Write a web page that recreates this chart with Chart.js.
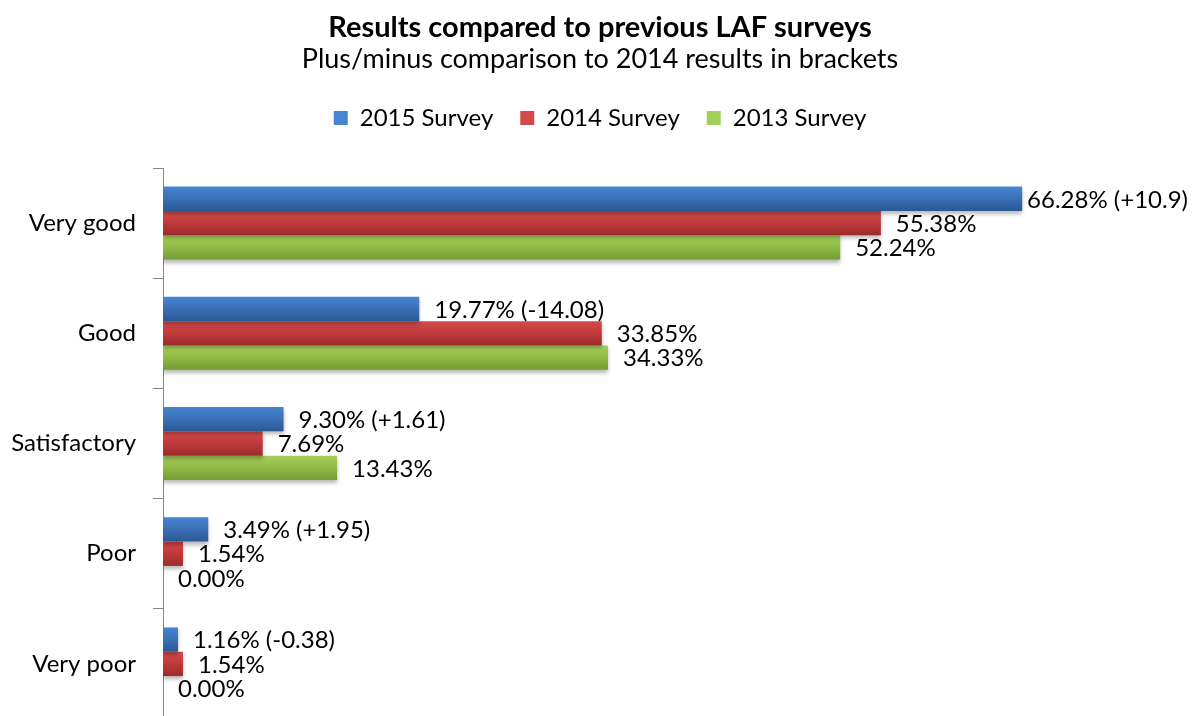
<!DOCTYPE html>
<html>
<head>
<meta charset="utf-8">
<title>Results compared to previous LAF surveys</title>
<script src="https://cdn.jsdelivr.net/npm/chart.js@4/dist/chart.umd.min.js"></script>
<style>
  html, body { margin: 0; padding: 0; background: #fff; overflow: hidden; }
  #wrap { width: 1192px; height: 716px; overflow: hidden; }
  canvas { display: block; }
</style>
</head>
<body>
<div id="wrap"><canvas id="surveyChart" width="1200" height="722"></canvas></div>
<script>
// Data
const categories = ["Very good", "Good", "Satisfactory", "Poor", "Very poor"];
const seriesNames = ["2015 Survey", "2014 Survey", "2013 Survey"];
const survey2015 = [66.28, 19.77, 9.30, 3.49, 1.16];
const survey2014 = [55.38, 33.85, 7.69, 1.54, 1.54];
const survey2013 = [52.24, 34.33, 13.43, 0.00, 0.00];
const change2014 = ["(+10.9)", "(-14.08)", "(+1.61)", "(+1.95)", "(-0.38)"];
const axisMax = 80;

(() => {
  "use strict";

  const FONT = "Lato, 'Open Sans', sans-serif";
  const CAT_PCT = 0.662;

  // top / bottom colours of the Excel-like shaded bars
  const shades = [
    { top: "#4884d3", mid: "#3b71ba", bottom: "#2b5891", flat: "#3a6fb7" },
    { top: "#d44a4a", mid: "#c13b3b", bottom: "#9c2a2a", flat: "#c03a3a" },
    { top: "#a5cf58", mid: "#93bc47", bottom: "#739c34", flat: "#8dba45" },
  ];

  const barFill = (shade) => (ctx) => {
    if (ctx.type !== "data") return shade.flat;
    const { chart, dataIndex, datasetIndex } = ctx;
    const y = chart.scales && chart.scales.y;
    if (!y || !chart.ctx) return shade.flat;
    const band = y.height / categories.length;
    const group = band * CAT_PCT;
    const bh = group / seriesNames.length;
    const top = y.getPixelForValue(dataIndex) - group / 2 + datasetIndex * bh;
    if (!Number.isFinite(top) || !Number.isFinite(bh) || bh <= 0) return shade.flat;
    const g = chart.ctx.createLinearGradient(0, top, 0, top + bh);
    g.addColorStop(0, shade.top);
    g.addColorStop(0.45, shade.mid);
    g.addColorStop(1, shade.bottom);
    return g;
  };

  const pct = (v) => v.toFixed(2) + "%";

  const labelText = (datasetIndex, i, v) =>
    datasetIndex === 0 ? `${pct(v)} ${change2014[i]}` : pct(v);

  // soft shadow under the bars + value labels at bar ends
  const barDecor = {
    id: "barDecor",
    beforeDatasetsDraw(chart) {
      const ctx = chart.ctx;
      ctx.save();
      ctx.shadowColor = "rgba(0,0,0,0.28)";
      ctx.shadowBlur = 4;
      ctx.shadowOffsetY = 3;
    },
    afterDatasetsDraw(chart) {
      const ctx = chart.ctx;
      ctx.restore();
      ctx.save();
      ctx.font = `24px ${FONT}`;
      ctx.fillStyle = "#000";
      ctx.textBaseline = "middle";
      ctx.textAlign = "left";
      chart.data.datasets.forEach((ds, di) => {
        const meta = chart.getDatasetMeta(di);
        meta.data.forEach((el, i) => {
          const text = labelText(di, i, ds.data[i]);
          const w = ctx.measureText(text).width;
          const x = Math.min(el.x + 15, 1188 - w);
          ctx.fillText(text, x, el.y + 1);
        });
      });
      ctx.restore();
    },
  };

  const datasets = [survey2015, survey2014, survey2013].map((data, i) => ({
    label: seriesNames[i],
    data,
    backgroundColor: barFill(shades[i]),
    borderWidth: 0,
    categoryPercentage: CAT_PCT,
    barPercentage: 1,
  }));

  const canvas = document.getElementById("surveyChart");

  new Chart(canvas, {
    type: "bar",
    data: { labels: categories, datasets },
    plugins: [barDecor],
    options: {
      indexAxis: "y",
      responsive: false,
      animation: false,
      devicePixelRatio: 1,
      layout: { padding: { left: 0, right: 0, top: 0, bottom: 3 } },
      plugins: {
        title: {
          display: true,
          text: "Results compared to previous LAF surveys",
          color: "#000",
          font: { family: FONT, size: 29, weight: "bold", lineHeight: 1.1 },
          padding: { top: 12, bottom: 0 },
        },
        subtitle: {
          display: true,
          text: "Plus/minus comparison to 2014 results in brackets",
          color: "#000",
          font: { family: FONT, size: 27, lineHeight: 1.1 },
          padding: { top: 1, bottom: 4.4 },
        },
        legend: {
          display: true,
          position: "top",
          labels: {
            color: "#000",
            font: { family: FONT, size: 24 },
            boxWidth: 14,
            boxHeight: 14,
            padding: 27,
          },
        },
        tooltip: { enabled: false },
      },
      scales: {
        x: {
          type: "linear",
          position: "top",
          min: 0,
          max: axisMax,
          ticks: { display: false },
          grid: { display: false },
          border: { display: false },
          afterFit: (s) => { s.height = 28; },
        },
        y: {
          type: "category",
          ticks: { color: "#000", font: { family: FONT, size: 24 }, padding: 17 },
          grid: {
            display: true,
            offset: true,
            drawOnChartArea: false,
            drawTicks: true,
            tickLength: 10,
            color: "#868686",
          },
          border: { display: true, color: "#868686", width: 1 },
          afterFit: (s) => {
            s.width = 163;
            s.paddingTop = 0;
            s.paddingBottom = 0;
          },
        },
      },
    },
  });
})();
</script>
</body>
</html>
